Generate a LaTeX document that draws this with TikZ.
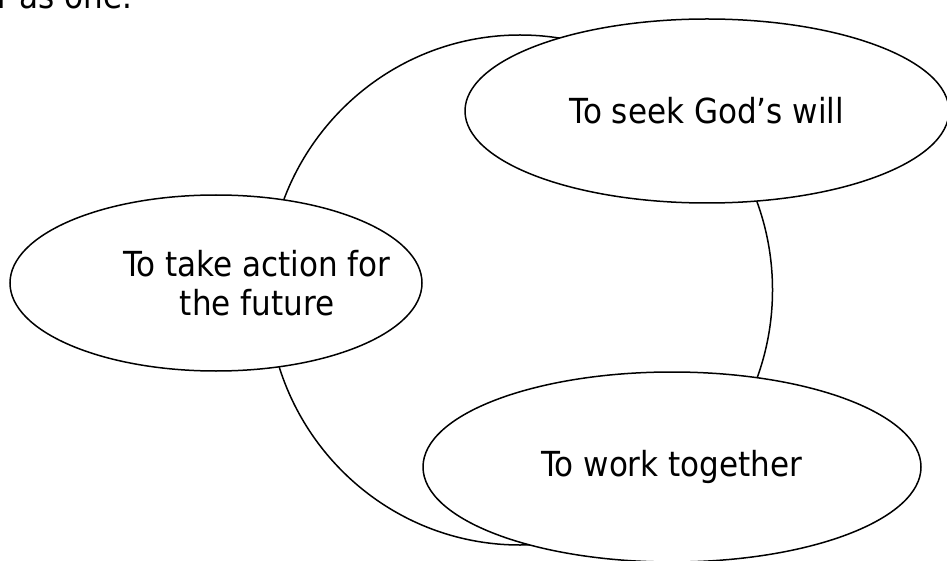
\documentclass[tikz,border=0pt]{standalone}
\usepackage{fontspec}
\setmainfont{DejaVu Sans Condensed}
\usetikzlibrary{shapes.geometric}
\begin{document}
\begin{tikzpicture}[x=1pt,y=-1pt,
  txt/.style={font=\fontsize{34.5}{39}\selectfont},
  oval/.style={draw=black,line width=1.5pt,fill=white,ellipse,inner sep=0pt,align=center,txt},
]
\useasboundingbox (0,0) rectangle (947,561);
\clip (0,0) rectangle (947,561);
\node[anchor=base west,inner sep=0pt,txt] (top) at (-3,9) {r as one.};
\node[draw=black,line width=1.5pt,ellipse,inner sep=0pt,minimum width=505pt,minimum height=510pt] (big) at (520,290) {};
\node[oval,minimum width=484pt,minimum height=184pt] (seek) at (707,111) {To seek God’s will};
\node[oval,minimum width=412pt,minimum height=176pt] (act) at (216,283) {};
\node[txt,align=center,inner sep=0pt] (actlabel) at (257,283) {To take action for\\the future};
\node[oval,minimum width=498pt,minimum height=190pt] (work) at (672,467) {To work together};
\end{tikzpicture}
\end{document}
